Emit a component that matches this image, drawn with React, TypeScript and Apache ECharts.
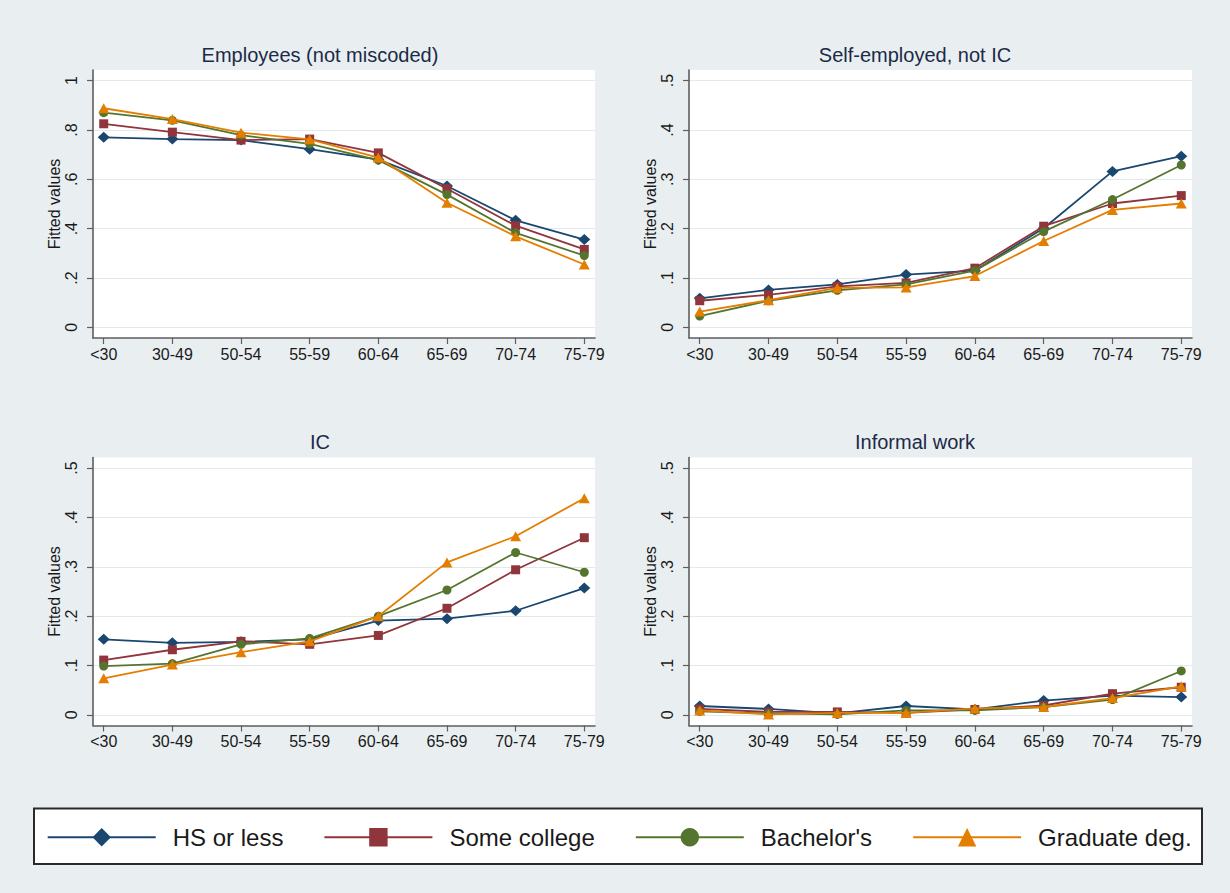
import { useEffect, useRef } from 'react';
import * as echarts from 'echarts';

// Age groups on the x axis and education groups drawn as series
const ageGroups = ['<30', '30-49', '50-54', '55-59', '60-64', '65-69', '70-74', '75-79'];
const educationLevels = ['HS or less', 'Some college', "Bachelor's", 'Graduate deg.'];
const panelTitles = ['Employees (not miscoded)', 'Self-employed, not IC', 'IC', 'Informal work'];

// Tick values for each panel's y axis
const employeeTicks = [0, 0.2, 0.4, 0.6, 0.8, 1];
const shareTicks = [0, 0.1, 0.2, 0.3, 0.4, 0.5];

// Employees (not miscoded)
const employeesHS = [0.770, 0.763, 0.759, 0.722, 0.680, 0.573, 0.434, 0.356];
const employeesSomeCollege = [0.825, 0.791, 0.759, 0.763, 0.707, 0.562, 0.412, 0.316];
const employeesBachelors = [0.870, 0.839, 0.779, 0.744, 0.678, 0.538, 0.383, 0.291];
const employeesGraduate = [0.888, 0.844, 0.789, 0.762, 0.688, 0.505, 0.369, 0.255];

// Self-employed, not IC
const selfEmpHS = [0.059, 0.076, 0.087, 0.107, 0.115, 0.201, 0.316, 0.347];
const selfEmpSomeCollege = [0.054, 0.066, 0.083, 0.090, 0.120, 0.205, 0.251, 0.267];
const selfEmpBachelors = [0.023, 0.054, 0.075, 0.087, 0.115, 0.194, 0.259, 0.329];
const selfEmpGraduate = [0.032, 0.055, 0.080, 0.081, 0.104, 0.175, 0.238, 0.251];

// IC
const icHS = [0.153, 0.146, 0.148, 0.153, 0.191, 0.195, 0.211, 0.257];
const icSomeCollege = [0.111, 0.132, 0.149, 0.143, 0.161, 0.216, 0.294, 0.359];
const icBachelors = [0.099, 0.104, 0.143, 0.155, 0.200, 0.253, 0.329, 0.289];
const icGraduate = [0.074, 0.102, 0.127, 0.149, 0.200, 0.309, 0.362, 0.439];

// Informal work
const informalHS = [0.018, 0.012, 0.003, 0.018, 0.011, 0.029, 0.039, 0.036];
const informalSomeCollege = [0.012, 0.006, 0.006, 0.004, 0.011, 0.019, 0.043, 0.056];
const informalBachelors = [0.007, 0.003, 0.001, 0.009, 0.009, 0.016, 0.031, 0.089];
const informalGraduate = [0.009, 0.001, 0.004, 0.004, 0.013, 0.016, 0.034, 0.058];

const FONT = '"Liberation Sans", Arial, Helvetica, sans-serif';
const seriesColors = ['#1a476f', '#90353b', '#55752f', '#e37e00'];
const seriesSymbols = ['diamond', 'rect', 'circle', 'triangle'];
const seriesSymbolSizes: [number, number][] = [[12, 11], [9, 9], [9, 9], [11, 10]];

const panels = [
  { title: panelTitles[0], ticks: employeeTicks, values: [employeesHS, employeesSomeCollege, employeesBachelors, employeesGraduate] },
  { title: panelTitles[1], ticks: shareTicks, values: [selfEmpHS, selfEmpSomeCollege, selfEmpBachelors, selfEmpGraduate] },
  { title: panelTitles[2], ticks: shareTicks, values: [icHS, icSomeCollege, icBachelors, icGraduate] },
  { title: panelTitles[3], ticks: shareTicks, values: [informalHS, informalSomeCollege, informalBachelors, informalGraduate] },
];

// Plot regions of the 2x2 layout
const gridBoxes = [
  { left: 93, top: 70, width: 502, height: 268 },
  { left: 689, top: 70, width: 503, height: 268 },
  { left: 93, top: 457.5, width: 502, height: 268 },
  { left: 689, top: 457.5, width: 503, height: 268 },
];
const titleCenters = [
  [320, 55],
  [915, 55],
  [320, 442],
  [915, 442],
];

const AXIS_COLOR = '#5e5e5e';
const TEXT_COLOR = '#1a1a1a';
const PAD = 0.043;
const X_PAD = 0.156;

function tickText(v: number): string {
  const r = Number(v.toFixed(2));
  if (r === 0) return '0';
  if (r === 1) return '1';
  return String(r).replace(/^0/, '');
}

function buildOption(): echarts.EChartsCoreOption {
  const xIdx = ageGroups.map((_, i) => i);

  const grid = gridBoxes.map((b) => ({
    ...b,
    show: true,
    backgroundColor: '#ffffff',
    borderWidth: 0,
  }));

  const xAxis = panels.map((_, i) => ({
    type: 'value',
    gridIndex: i,
    min: -X_PAD,
    max: ageGroups.length - 1 + X_PAD,
    axisLine: { show: true, onZero: false, lineStyle: { color: AXIS_COLOR, width: 1.6 } },
    axisTick: { show: true, length: 6, customValues: xIdx, lineStyle: { color: AXIS_COLOR, width: 1.2 } },
    axisLabel: {
      customValues: xIdx,
      formatter: (v: number) => ageGroups[Math.round(v)] ?? '',
      fontSize: 16,
      fontFamily: FONT,
      color: TEXT_COLOR,
      margin: 8,
    },
    splitLine: { show: false },
  }));

  const yAxis = panels.map((p, i) => {
    const top = p.ticks[p.ticks.length - 1];
    return {
      type: 'value',
      gridIndex: i,
      min: -PAD * top,
      max: top * (1 + PAD),
      name: 'Fitted values',
      nameLocation: 'middle',
      nameRotate: 90,
      nameGap: 31,
      nameTextStyle: { fontSize: 16, fontFamily: FONT, color: TEXT_COLOR },
      axisLine: { show: true, onZero: false, lineStyle: { color: AXIS_COLOR, width: 1.6 } },
      axisTick: { show: true, length: 6, customValues: p.ticks, lineStyle: { color: AXIS_COLOR, width: 1.2 } },
      axisLabel: {
        customValues: p.ticks,
        formatter: (v: number) => tickText(v),
        rotate: 90,
        fontSize: 16,
        fontFamily: FONT,
        color: TEXT_COLOR,
        margin: 14,
      },
      splitLine: { show: true, lineStyle: { color: '#e1e9ec', width: 1.2 } },
    };
  });

  const series = panels.flatMap((p, i) =>
    p.values.map((vals, k) => ({
      type: 'line',
      name: educationLevels[k],
      xAxisIndex: i,
      yAxisIndex: i,
      data: vals.map((v, j) => [j, v]),
      symbol: seriesSymbols[k],
      symbolSize: seriesSymbolSizes[k],
      showSymbol: true,
      lineStyle: { color: seriesColors[k], width: 1.8 },
      itemStyle: { color: seriesColors[k] },
      emphasis: { disabled: true },
      z: 2 + k,
    }))
  );

  const titleTexts = panels.map((p, i) => ({
    type: 'text',
    x: titleCenters[i][0],
    y: titleCenters[i][1],
    style: {
      text: p.title,
      fill: '#1c2a48',
      font: `20px ${FONT}`,
      textAlign: 'center',
      textVerticalAlign: 'middle',
    },
  }));

  return {
    animation: false,
    backgroundColor: '#e9eff1',
    grid,
    xAxis,
    yAxis,
    series,
    legend: {
      data: educationLevels,
      left: 46.7,
      top: 825.2,
      orient: 'horizontal',
      itemWidth: 108,
      itemHeight: 23,
      itemGap: 40,
      padding: 0,
      z: 10,
      textStyle: { fontSize: 24, fontFamily: FONT, color: TEXT_COLOR, padding: [0, 0, 0, 12] },
      selectedMode: false,
    },
    graphic: [
      {
        type: 'rect',
        z: 1,
        shape: { x: 34, y: 808.5, width: 1168, height: 55.5 },
        style: { fill: '#ffffff', stroke: '#2a2a2a', lineWidth: 2 },
      },
      ...titleTexts,
    ],
  };
}

export default function App() {
  const ref = useRef<HTMLDivElement>(null);
  useEffect(() => {
    if (!ref.current) return;
    const chart = echarts.init(ref.current, null, { renderer: 'svg' });
    chart.setOption(buildOption());
    return () => chart.dispose();
  }, []);
  return <div ref={ref} style={{ position: 'fixed', left: 0, top: 0, width: 1230, height: 893 }} />;
}
